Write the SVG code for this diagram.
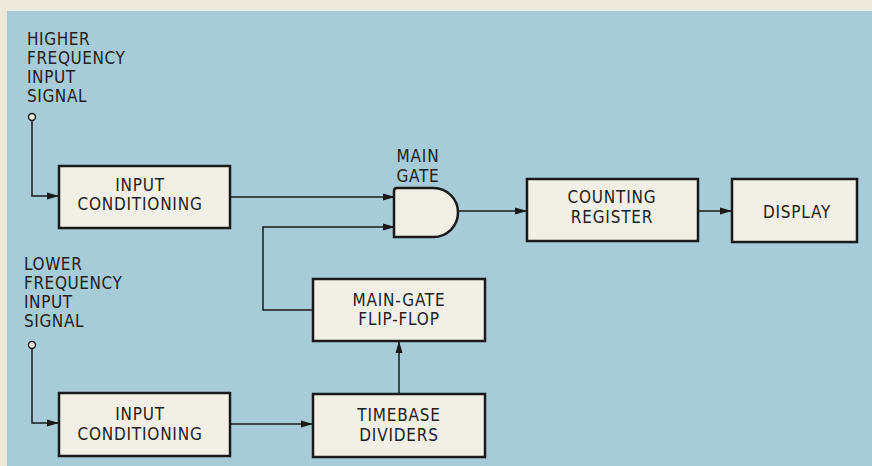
<svg xmlns="http://www.w3.org/2000/svg" width="872" height="466" viewBox="0 0 872 466">
<style>
.box{fill:#f2efe6;stroke:#1a1a1a;stroke-width:2.5}
.t{font-family:"DejaVu Sans Condensed","DejaVu Sans","Liberation Sans",sans-serif;font-stretch:condensed;font-size:17px;fill:#222;text-anchor:middle;letter-spacing:0.8px}
.lbl{font-family:"DejaVu Sans Condensed","DejaVu Sans","Liberation Sans",sans-serif;font-stretch:condensed;font-size:17px;fill:#222;letter-spacing:0.6px}
.ln{fill:none;stroke:#1a1a1a;stroke-width:1.5}
</style>
<defs>
<marker id="ah" markerWidth="12" markerHeight="8" refX="11" refY="4" orient="auto" markerUnits="userSpaceOnUse">
<path d="M0,0.5 L12,4 L0,7.5 Z" fill="#1a1a1a"/>
</marker>
</defs>
<rect x="0" y="0" width="872" height="466" fill="#ede9dd"/>
<rect x="7" y="11" width="865" height="455" fill="#a7cbd7"/>

<g id="label-high">
<text class="lbl" x="27" y="45">HIGHER</text>
<text class="lbl" x="27" y="64">FREQUENCY</text>
<text class="lbl" x="27" y="83">INPUT</text>
<text class="lbl" x="27" y="102">SIGNAL</text>
<circle cx="32" cy="117" r="3.5" fill="#f2efe6" stroke="#1a1a1a" stroke-width="1.4"/>
</g>
<g id="label-low">
<text class="lbl" x="24" y="270">LOWER</text>
<text class="lbl" x="24" y="289">FREQUENCY</text>
<text class="lbl" x="24" y="308">INPUT</text>
<text class="lbl" x="24" y="327">SIGNAL</text>
<circle cx="32" cy="345" r="3.5" fill="#f2efe6" stroke="#1a1a1a" stroke-width="1.4"/>
</g>

<g id="connectors">
<path class="ln" d="M32,120.5 V196 H58" marker-end="url(#ah)"/>
<path class="ln" d="M230,197 H394" marker-end="url(#ah)"/>
<path class="ln" d="M313,310 H263 V227 H394" marker-end="url(#ah)"/>
<path class="ln" d="M458,211 H526" marker-end="url(#ah)"/>
<path class="ln" d="M698,211 H731" marker-end="url(#ah)"/>
<path class="ln" d="M32,348.5 V423 H58" marker-end="url(#ah)"/>
<path class="ln" d="M230,424 H312" marker-end="url(#ah)"/>
<path class="ln" d="M399,394 V342" marker-end="url(#ah)"/>
</g>

<g id="input-cond-high">
<rect class="box" x="59" y="166" width="171" height="62"/>
<text class="t" x="140" y="191">INPUT</text>
<text class="t" x="140" y="210">CONDITIONING</text>
</g>
<g id="main-gate">
<text class="t" x="418" y="162">MAIN</text>
<text class="t" x="418" y="182">GATE</text>
<path class="box" d="M394,237 V191 Q394,188 397,188 H433.5 A24.5,24.5 0 0 1 433.5,237 Z"/>
</g>
<g id="counting-register">
<rect class="box" x="527" y="179" width="171" height="62"/>
<text class="t" x="612" y="203">COUNTING</text>
<text class="t" x="612" y="223">REGISTER</text>
</g>
<g id="display">
<rect class="box" x="732" y="179" width="125" height="63"/>
<text class="t" x="797" y="218">DISPLAY</text>
</g>
<g id="flip-flop">
<rect class="box" x="313" y="279" width="172" height="62"/>
<text class="t" x="399" y="306">MAIN-GATE</text>
<text class="t" x="399" y="325">FLIP-FLOP</text>
</g>
<g id="input-cond-low">
<rect class="box" x="59" y="393" width="171" height="63"/>
<text class="t" x="140" y="420">INPUT</text>
<text class="t" x="140" y="440">CONDITIONING</text>
</g>
<g id="timebase">
<rect class="box" x="313" y="394" width="172" height="63"/>
<text class="t" x="399" y="421">TIMEBASE</text>
<text class="t" x="399" y="441">DIVIDERS</text>
</g>
</svg>
